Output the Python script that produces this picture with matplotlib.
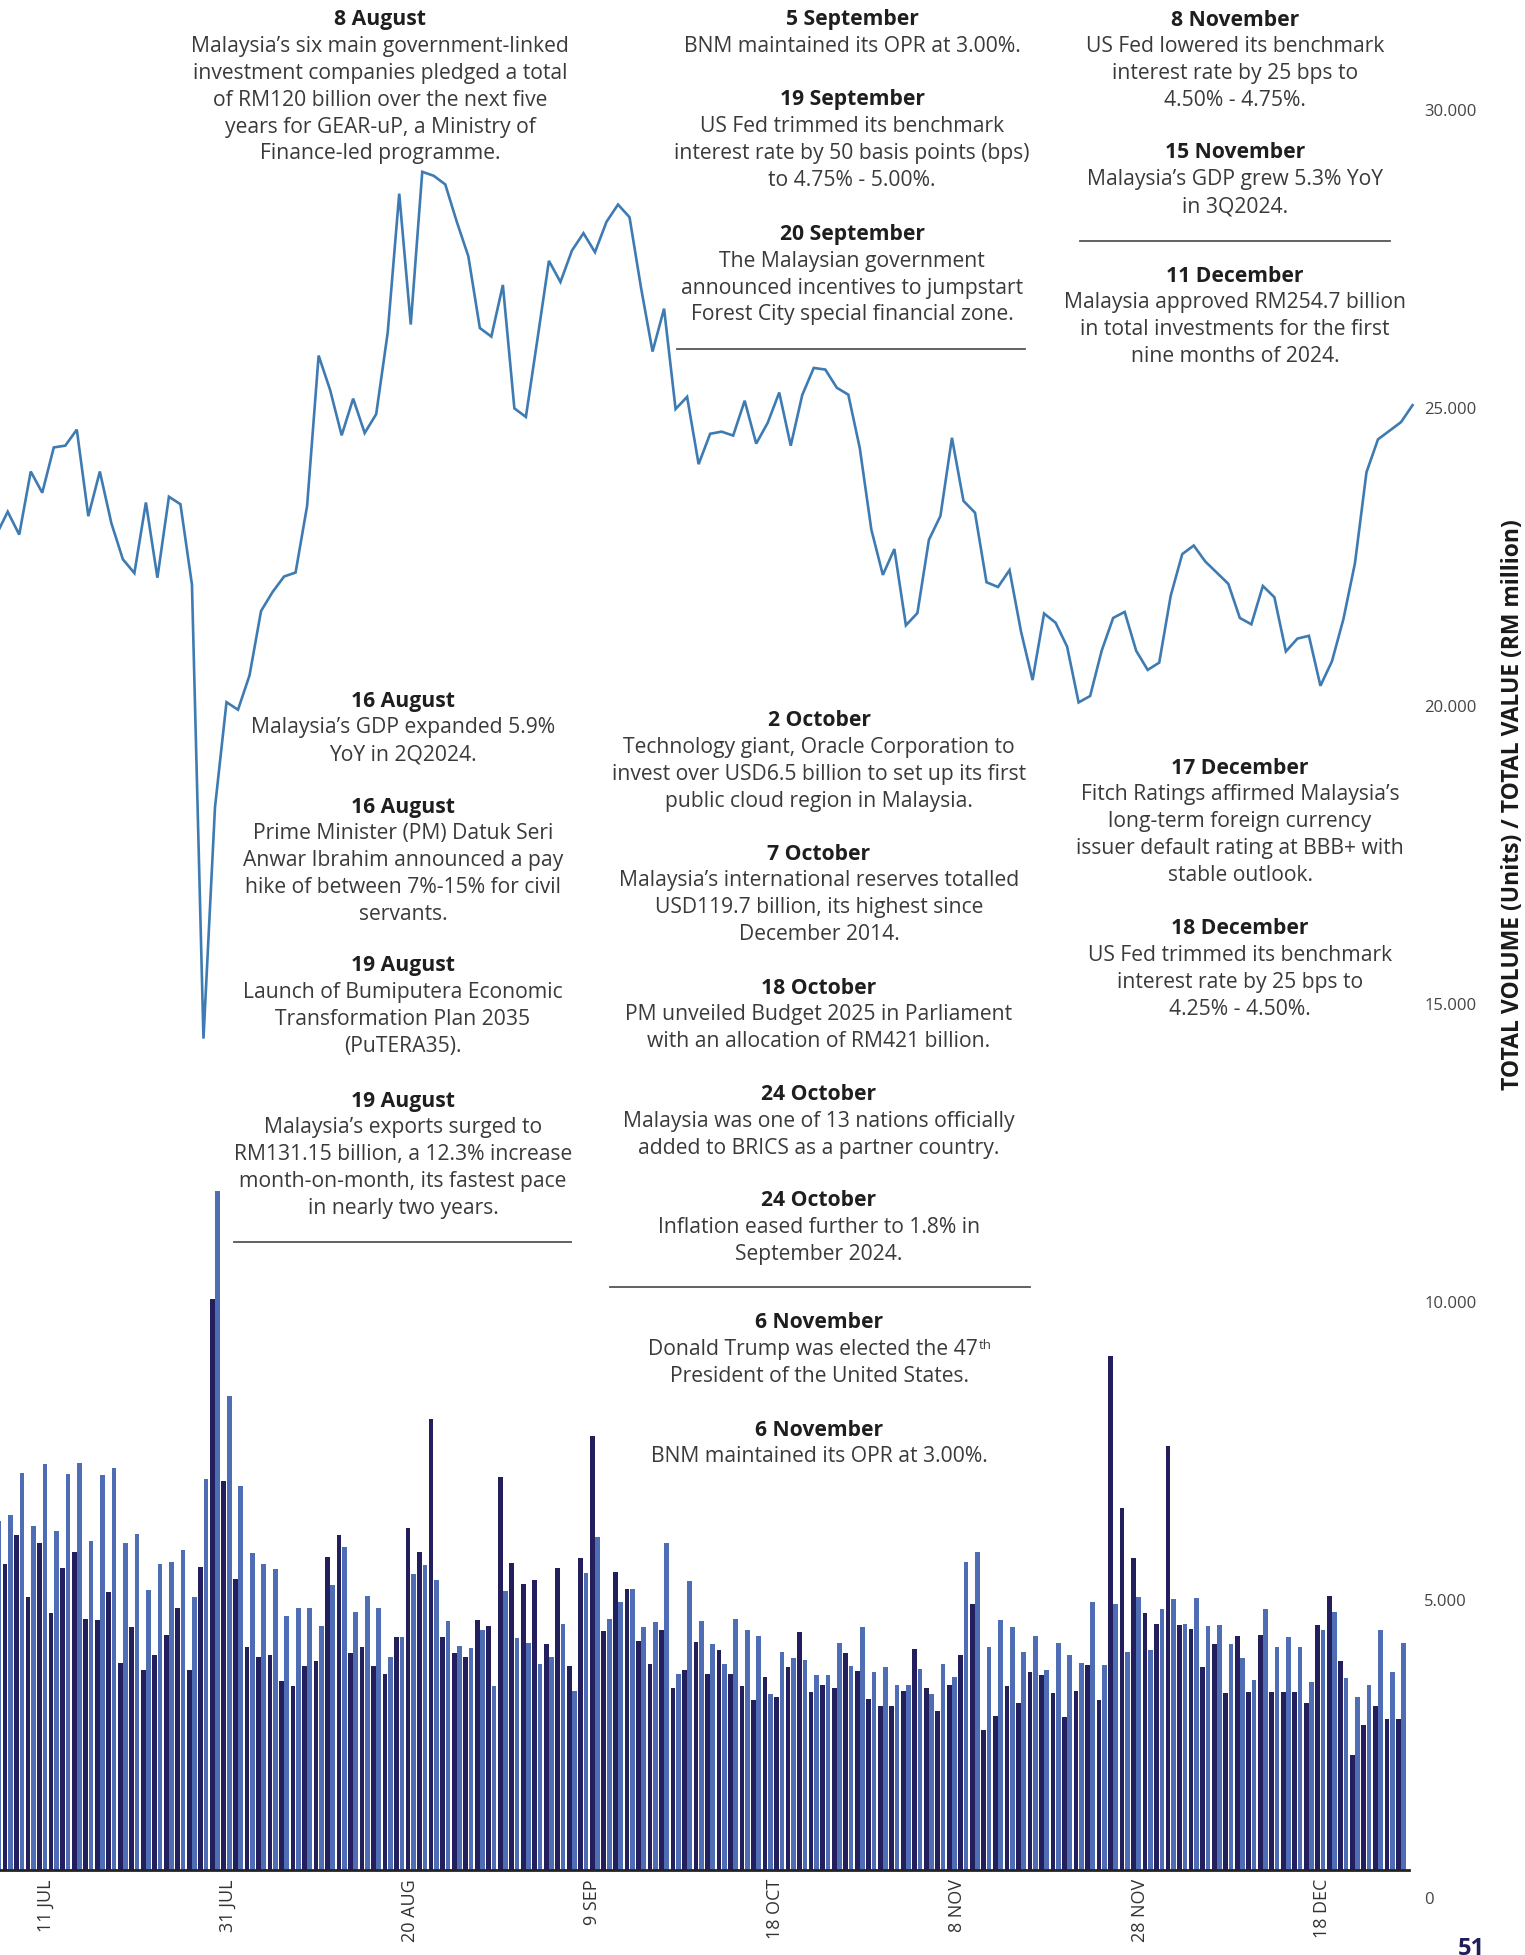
import numpy as np
import matplotlib
matplotlib.use("Agg")
import matplotlib.pyplot as plt
from matplotlib.lines import Line2D
from matplotlib.transforms import ScaledTranslation

# ---------------- data ----------------
dark_vals = [4600, 5128, 5613, 4574, 5482, 4320, 5074, 5328, 4204, 4189,
             4659, 3480, 4073, 3350, 3604, 3950, 4389, 3350, 5090, 9587,
             6522, 4890, 3750, 3581, 3604, 3165, 3095, 3419, 3511, 5244,
             5629, 3634, 3750, 3419, 3296, 3904, 5744, 5328, 7561, 3904,
             3634, 3581, 4189, 4089, 6599, 5159, 4805, 4859, 3788, 5074,
             3419, 5228, 7284, 4004, 5005, 4720, 3835, 3465, 4035, 3049,
             3350, 3819, 3296, 3688, 3296, 3080, 2849, 3234, 2911, 3403,
             3989, 2980, 3111, 3049, 3634, 3334, 2864, 2749, 2749, 3011,
             3704, 3049, 2664, 3111, 3604, 4458, 2356, 2580, 3095, 2795,
             3319, 3265, 2965, 2564, 3011, 3434, 2849, 8632, 6068, 5228,
             4320, 4135, 7107, 4104, 4050, 3403, 3788, 2965, 3919, 2995,
             3950, 2980, 2995, 2995, 2795, 4104, 4605, 3504, 1925, 2441,
             2749, 2541, 2526]

light_vals = [5852, 5952, 6668, 5767, 6807, 5683, 6637, 6822, 5529, 6622,
              6738, 5482, 5644, 4705, 5128, 5174, 5375, 4574, 6568, 11396,
              7962, 6437, 5313, 5128, 5044, 4258, 4389, 4404, 4089, 4789,
              5413, 4335, 4605, 4389, 3581, 3904, 4974, 5113, 4859, 4173,
              3765, 3727, 4035, 3080, 4689, 3889, 3804, 3465, 3581, 4135,
              3011, 4990, 5583, 4220, 4505, 4720, 4073, 4158, 5482, 3296,
              4843, 4173, 3788, 3450, 4220, 4019, 3919, 2949, 3650, 3565,
              3519, 3280, 3280, 3804, 3419, 4073, 3319, 3403, 3111, 3111,
              3380, 2949, 3450, 3234, 5174, 5328, 3750, 4189, 4073, 3665,
              3919, 3350, 3804, 3604, 3480, 4489, 3434, 4458, 3650, 4589,
              3688, 4374, 4543, 4135, 4558, 4089, 4104, 3788, 3550, 3180,
              4374, 3735, 3904, 3735, 3149, 4019, 4335, 3219, 2911, 3111,
              4035, 3319, 3804]

line_vals = [22400, 22792, 22408, 23467, 23111, 23871, 23901, 24170, 22717, 23467,
             22601, 21994, 21762, 22947, 21685, 23044, 22918, 21569, 13951, 17832,
             19596, 19470, 20047, 21126, 21445, 21705, 21772, 22890, 25413, 24834,
             24074, 24690, 24113, 24430, 25799, 28130, 25933, 28496, 28429, 28284,
             27657, 27080, 25875, 25731, 26598, 24527, 24383, 25684, 27002, 26647,
             27175, 27466, 27147, 27657, 27947, 27734, 26549, 25480, 26200, 24515,
             24720, 23590, 24100, 24136, 24070, 24655, 23935, 24284, 24793, 23900,
             24751, 25205, 25178, 24873, 24756, 23856, 22492, 21732, 22166, 20886,
             21091, 22321, 22722, 24032, 22974, 22776, 21609, 21529, 21812, 20780,
             19967, 21084, 20930, 20529, 19592, 19700, 20458, 21010, 21111, 20458,
             20138, 20260, 21384, 22081, 22225, 21957, 21770, 21582, 21010, 20903,
             21546, 21358, 20448, 20663, 20710, 19871, 20282, 20993, 21930, 23455,
             24007, 24151, 24296, 24580]

x_tick_labels = ["11 JUL", "31 JUL", "20 AUG", "9 SEP", "18 OCT", "8 NOV", "28 NOV", "18 DEC"]
x_tick_pos = [4.3, 20.1, 35.9, 51.7, 67.6, 83.4, 99.3, 115.1]
y_ticks = [0, 5000, 10000, 15000, 20000, 25000, 30000]
y_tick_labels = ["0", "5.000", "10.000", "15.000", "20.000", "25.000", "30.000"]
y_title = "TOTAL VOLUME (Units) / TOTAL VALUE (RM million)"

# ---------------- styles ----------------
DARK = "#231f5c"
LIGHT = "#4e6db4"
LINE = "#3e7bb2"
TXT = "#3a3a3a"
HEAD = "#1e1e1e"
FONT = "Open Sans"

W, H = 1525, 1955
fig = plt.figure(figsize=(W / 100, H / 100), dpi=100)


def fx(x):
    return x / W


def fy(y):
    return 1 - y / H


ax = fig.add_axes([0, fy(1870), fx(1416), 1870 / H])
x = np.arange(len(dark_vals))
bw = 0.41
ax.bar(x - 0.23, dark_vals, width=bw, color=DARK, zorder=2, linewidth=0)
ax.bar(x + 0.23, light_vals, width=bw, color=LIGHT, zorder=2, linewidth=0)
ax.plot(np.arange(len(line_vals)), line_vals, color=LINE, lw=1.9, zorder=3,
        solid_joinstyle="miter")

ax.set_xlim(0.33, 123.3)
ax.set_ylim(0, 31379)
for s in ["top", "left", "right"]:
    ax.spines[s].set_visible(False)
ax.spines["bottom"].set_color("#222222")
ax.spines["bottom"].set_linewidth(2.0)
ax.spines["bottom"].set_bounds(0.33, 122.7)
ax.set_facecolor("none")

ax.set_xticks(x_tick_pos)
ax.set_xticklabels(x_tick_labels, rotation=90, fontsize=13, color="#333333",
                   family=FONT)
ax.tick_params(axis="x", length=0, pad=6.5)

ax.yaxis.tick_right()
ax.set_yticks(y_ticks)
ax.set_yticklabels(y_tick_labels, fontsize=12, color="#444444", family=FONT)
ax.tick_params(axis="y", length=0, pad=5.8)
for lab in ax.get_yticklabels():
    lab.set_transform(lab.get_transform() + ScaledTranslation(0, -0.28, fig.dpi_scale_trans))

fig.text(fx(1513), fy(805), y_title, rotation=90, ha="center", va="center",
         fontsize=16.5, fontweight="bold", color="#1a1a1a", family=FONT)

fig.text(fx(1471), fy(1937), "51", ha="center", va="top", fontsize=17,
         fontweight="bold", color="#1f1d5a", family=FONT)

# ---------------- annotations ----------------
STEP = 26.8
BODY = 15.2


def block(cx, y0, head, body):
    fig.text(fx(cx), fy(y0), head, ha="center", va="center", fontsize=BODY,
             fontweight="bold", color=HEAD, family=FONT)
    out = []
    for k, line in enumerate(body):
        t = fig.text(fx(cx), fy(y0 + STEP * (k + 1)), line, ha="center",
                     va="center", fontsize=BODY, color=TXT, family=FONT)
        out.append(t)
    return out


def rule(x0, x1, y):
    fig.add_artist(Line2D([fx(x0), fx(x1)], [fy(y), fy(y)], color="#555555", lw=1.3))


# top column 1
block(380, 20, "8 August", ["Malaysia’s six main government-linked",
                            "investment companies pledged a total",
                            "of RM120 billion over the next five",
                            "years for GEAR-uP, a Ministry of",
                            "Finance-led programme."])
# top column 2
block(852, 20, "5 September", ["BNM maintained its OPR at 3.00%."])
block(852, 100, "19 September", ["US Fed trimmed its benchmark",
                                 "interest rate by 50 basis points (bps)",
                                 "to 4.75% - 5.00%."])
block(852, 234.5, "20 September", ["The Malaysian government",
                                   "announced incentives to jumpstart",
                                   "Forest City special financial zone."])
rule(677, 1025, 349)
# top column 3
block(1235, 20, "8 November", ["US Fed lowered its benchmark",
                               "interest rate by 25 bps to",
                               "4.50% - 4.75%."])
block(1235, 153, "15 November", ["Malaysia’s GDP grew 5.3% YoY",
                                 "in 3Q2024."])
rule(1080, 1390, 241)
block(1235, 276, "11 December", ["Malaysia approved RM254.7 billion",
                                 "in total investments for the first",
                                 "nine months of 2024."])
# middle left
block(403, 701, "16 August", ["Malaysia’s GDP expanded 5.9%",
                              "YoY in 2Q2024."])
block(403, 807, "16 August", ["Prime Minister (PM) Datuk Seri",
                              "Anwar Ibrahim announced a pay",
                              "hike of between 7%-15% for civil",
                              "servants."])
block(403, 966, "19 August", ["Launch of Bumiputera Economic",
                              "Transformation Plan 2035",
                              "(PuTERA35)."])
block(403, 1101, "19 August", ["Malaysia’s exports surged to",
                               "RM131.15 billion, a 12.3% increase",
                               "month-on-month, its fastest pace",
                               "in nearly two years."])
rule(234, 571, 1242)
# middle
block(819, 721, "2 October", ["Technology giant, Oracle Corporation to",
                              "invest over USD6.5 billion to set up its first",
                              "public cloud region in Malaysia."])
block(819, 854, "7 October", ["Malaysia’s international reserves totalled",
                              "USD119.7 billion, its highest since",
                              "December 2014."])
block(819, 988, "18 October", ["PM unveiled Budget 2025 in Parliament",
                               "with an allocation of RM421 billion."])
block(819, 1095, "24 October", ["Malaysia was one of 13 nations officially",
                                "added to BRICS as a partner country."])
block(819, 1201, "24 October", ["Inflation eased further to 1.8% in",
                                "September 2024."])
rule(610, 1030, 1287)
tr = block(819, 1323, "6 November", ["Donald Trump was elected the 47",
                                     "President of the United States."])
block(819, 1430, "6 November", ["BNM maintained its OPR at 3.00%."])
# right middle
block(1240, 768, "17 December", ["Fitch Ratings affirmed Malaysia’s",
                                 "long-term foreign currency",
                                 "issuer default rating at BBB+ with",
                                 "stable outlook."])
block(1240, 929, "18 December", ["US Fed trimmed its benchmark",
                                 "interest rate by 25 bps to",
                                 "4.25% - 4.50%."])

# superscript "th"
main = tr[0]
fig.canvas.draw()
r = fig.canvas.get_renderer()
sup = fig.text(0, 0, "th", fontsize=9.5, color=TXT, family=FONT, va="bottom", ha="left")
sw = sup.get_window_extent(r).width
main.set_position((fx(819 - sw / 2), fy(1323 + STEP)))
fig.canvas.draw()
bb = main.get_window_extent(r)
sup.set_position((bb.x1 / W + 1 / W, (bb.y1 - 13) / H))

fig.savefig("out.png", dpi=100)
